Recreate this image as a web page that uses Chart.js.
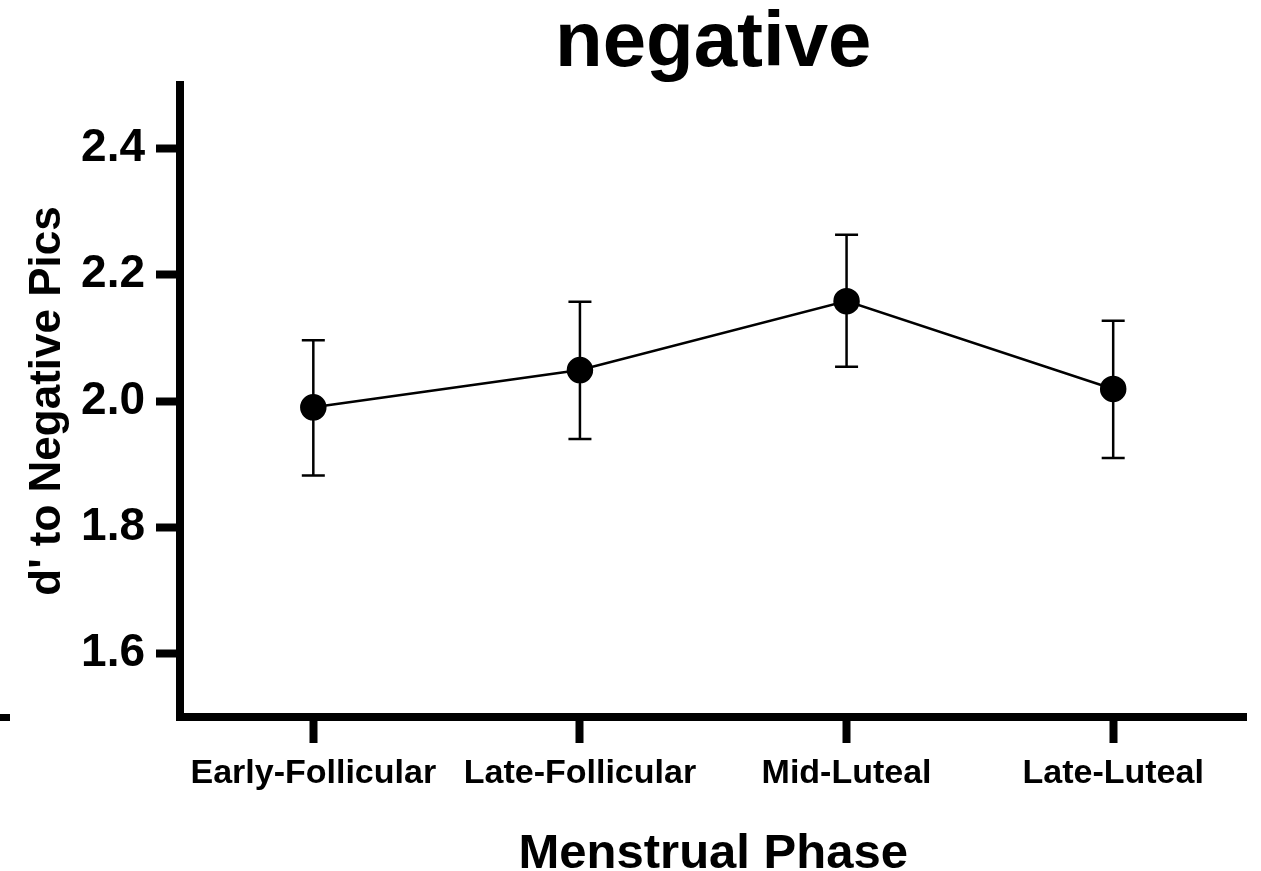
<!DOCTYPE html>
<html lang="en">
<head>
  <meta charset="UTF-8">
  <title>negative</title>
  <script src="https://cdn.jsdelivr.net/npm/chart.js"></script>
  <style>
    html, body { margin: 0; padding: 0; background: #ffffff; }
    .chart-box { width: 1261px; height: 871px; }
  </style>
</head>
<body>

<div class="chart-box">
  <canvas id="phaseChart" width="1261" height="871"></canvas>
</div>

<script>
// data
const phases = ["Early-Follicular", "Late-Follicular", "Mid-Luteal", "Late-Luteal"];
const dPrime = [1.99, 2.049, 2.158, 2.019];
const errLow = [0.108, 0.109, 0.104, 0.109];
const errHigh = [0.106, 0.108, 0.105, 0.108];
const yTicks = [1.6, 1.8, 2.0, 2.2, 2.4];

const FONT = "'Liberation Sans', Arial, sans-serif";

// draws the error bars with caps, using the chart's own scales
const errorBars = {
  id: 'errorBars',
  afterDatasetsDraw(chart) {
    const ctx = chart.ctx;
    const y = chart.scales.y;
    const meta = chart.getDatasetMeta(0);
    ctx.save();
    ctx.strokeStyle = '#000';
    ctx.lineWidth = 2.5;
    meta.data.forEach((pt, i) => {
      const top = y.getPixelForValue(dPrime[i] + errHigh[i]);
      const bot = y.getPixelForValue(dPrime[i] - errLow[i]);
      ctx.beginPath();
      ctx.moveTo(pt.x, top); ctx.lineTo(pt.x, bot);
      ctx.moveTo(pt.x - 11.5, top); ctx.lineTo(pt.x + 11.5, top);
      ctx.moveTo(pt.x - 11.5, bot); ctx.lineTo(pt.x + 11.5, bot);
      ctx.stroke();
    });
    ctx.restore();
  }
};

// little stray dash at the left edge of the original image
const strayMark = {
  id: 'strayMark',
  afterDraw(chart) {
    const ctx = chart.ctx;
    ctx.save();
    ctx.fillStyle = '#000';
    ctx.fillRect(0, chart.chartArea.bottom - 3, 10, 7);
    ctx.restore();
  }
};

new Chart(document.getElementById('phaseChart'), {
  type: 'line',
  data: {
    labels: phases,
    datasets: [{
      data: dPrime,
      borderColor: '#000',
      borderWidth: 2.5,
      backgroundColor: '#000',
      pointBackgroundColor: '#000',
      pointBorderColor: '#000',
      pointRadius: 12,
      pointHoverRadius: 12,
      tension: 0
    }]
  },
  options: {
    responsive: false,
    animation: false,
    events: [],
    layout: { padding: { left: 0, right: 11, top: 0, bottom: 0 } },
    plugins: {
      legend: { display: false },
      tooltip: { enabled: false },
      title: {
        display: true,
        fullSize: false, // centre over the plot area, not the whole canvas
        text: 'negative',
        color: '#000',
        font: { family: FONT, size: 78, weight: 'bold', lineHeight: 1 },
        padding: { top: 5, bottom: 2 }
      }
    },
    scales: {
      x: {
        type: 'category',
        offset: true,
        grid: { drawOnChartArea: false, drawTicks: true, tickLength: 26, tickWidth: 8, tickColor: '#000' },
        border: { display: true, width: 8, color: '#000' },
        ticks: {
          color: '#000',
          padding: 10,
          maxRotation: 0,
          autoSkip: false,
          font: { family: FONT, size: 34, weight: 'bold' }
        },
        title: {
          display: true,
          text: 'Menstrual Phase',
          color: '#000',
          font: { family: FONT, size: 49, weight: 'bold', lineHeight: 1 },
          padding: { top: 0, bottom: -8 }
        },
        afterFit(scale) { scale.height = 154; }
      },
      y: {
        min: 1.5,
        max: 2.5,
        grid: { drawOnChartArea: false, drawTicks: true, tickLength: 24, tickWidth: 8, tickColor: '#000' },
        border: { display: true, width: 8, color: '#000' },
        ticks: {
          color: '#000',
          padding: 11,
          font: { family: FONT, size: 46, weight: 'bold' },
          callback: v => Number(v).toFixed(1)
        },
        afterBuildTicks(scale) { scale.ticks = yTicks.map(v => ({ value: v })); },
        title: {
          display: true,
          text: "d' to Negative Pics",
          color: '#000',
          font: { family: FONT, size: 44, weight: 'bold', lineHeight: 1 },
          padding: { top: 26, bottom: 0 }
        },
        afterFit(scale) { scale.width = 180; }
      }
    }
  },
  plugins: [errorBars, strayMark]
});
</script>

</body>
</html>
